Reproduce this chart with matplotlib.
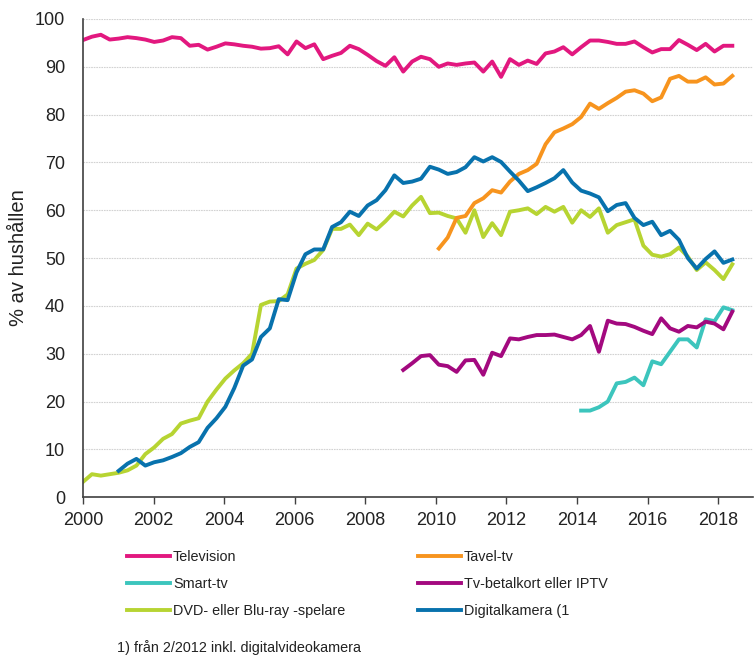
import matplotlib
matplotlib.use("Agg")
import matplotlib.pyplot as plt
import numpy as np

plt.rcParams["font.family"] = ["Liberation Sans", "DejaVu Sans"]
plt.rcParams["font.size"] = 11

# quarterly observations, 1/2000 .. 2/2018
quarters = np.linspace(2000, 2018.4, 74)

television = [
    95.6, 96.3, 96.7, 95.7, 95.9, 96.2, 96.0, 95.7, 95.2, 95.5,
    96.2, 96.0, 94.4, 94.6, 93.6, 94.2, 94.9, 94.7, 94.4, 94.2,
    93.8, 93.9, 94.3, 92.6, 95.3, 93.9, 94.7, 91.6, 92.3, 92.9,
    94.4, 93.7, 92.5, 91.2, 90.2, 92.0, 89.0, 91.1, 92.1, 91.6,
    90.0, 90.7, 90.4, 90.7, 90.9, 89.0, 91.1, 87.9, 91.6, 90.4,
    91.3, 90.6, 92.8, 93.2, 94.1, 92.6, 94.1, 95.5, 95.5, 95.2,
    94.8, 94.8, 95.3, 94.1, 93.0, 93.7, 93.7, 95.6, 94.6, 93.5,
    94.8, 93.2, 94.4, 94.4,
]

# Tavel-tv from 1/2010
tavel_start = 40
tavel_tv = [
    52.0, 54.3, 58.4, 58.8, 61.5, 62.5, 64.2, 63.7, 66.0, 67.6,
    68.4, 69.7, 73.8, 76.3, 77.1, 78.0, 79.5, 82.3, 81.2, 82.4,
    83.5, 84.8, 85.1, 84.4, 82.8, 83.6, 87.5, 88.1, 86.9, 86.9,
    87.8, 86.3, 86.5, 88.1,
]

# Smart-tv from 1/2014
smart_start = 56
smart_tv = [
    18.1, 18.1, 18.8, 20.0, 23.8, 24.1, 25.0, 23.4, 28.4, 27.8,
    30.4, 33.0, 33.0, 31.3, 37.2, 36.8, 39.7, 39.1,
]

# Tv-betalkort eller IPTV from 1/2009
betal_start = 36
betalkort = [
    26.6, 28.0, 29.5, 29.7, 27.7, 27.4, 26.2, 28.6, 28.7, 25.6,
    30.2, 29.5, 33.2, 33.0, 33.5, 33.9, 33.9, 34.0, 33.5, 33.0,
    33.9, 35.8, 30.4, 36.9, 36.3, 36.2, 35.6, 34.8, 34.1, 37.4,
    35.3, 34.6, 35.8, 35.5, 36.7, 36.3, 35.1, 38.8,
]

dvd = [
    3.2, 4.8, 4.5, 4.8, 5.1, 5.6, 6.6, 9.0, 10.4, 12.2,
    13.2, 15.4, 16.0, 16.5, 20.0, 22.5, 24.8, 26.5, 28.0, 30.0,
    40.2, 40.9, 41.0, 42.4, 47.8, 48.8, 49.6, 51.7, 56.1, 56.1,
    57.0, 54.8, 57.2, 56.0, 57.7, 59.7, 58.7, 61.0, 62.8, 59.4,
    59.5, 58.8, 58.3, 55.3, 60.0, 54.4, 57.3, 54.8, 59.7, 60.0,
    60.4, 59.2, 60.7, 59.7, 60.7, 57.4, 60.0, 58.6, 60.4, 55.3,
    56.9, 57.5, 58.1, 52.6, 50.7, 50.3, 50.8, 52.2, 50.3, 47.5,
    49.1, 47.5, 45.6, 48.7,
]

# Digitalkamera from 1/2001
kamera_start = 4
kamera = [
    5.5, 7.0, 8.0, 6.6, 7.3, 7.7, 8.4, 9.2, 10.5, 11.5,
    14.5, 16.5, 18.9, 22.8, 27.5, 28.8, 33.5, 35.3, 41.4, 41.2,
    47.0, 50.8, 51.8, 51.8, 56.5, 57.5, 59.7, 58.8, 61.0, 62.1,
    64.2, 67.3, 65.7, 66.0, 66.6, 69.1, 68.5, 67.6, 68.0, 69.0,
    71.1, 70.2, 71.1, 70.1, 68.1, 66.2, 64.0, 64.8, 65.7, 66.7,
    68.4, 65.8, 64.1, 63.5, 62.7, 59.8, 61.1, 61.5, 58.4, 56.9,
    57.6, 54.8, 55.7, 53.8, 50.0, 47.8, 49.8, 51.4, 49.0, 49.7,
]

# legend column 1, then column 2
series = [
    ("Television", television, 0, "#e2187f"),
    ("Smart-tv", smart_tv, smart_start, "#3cc5bd"),
    ("DVD- eller Blu-ray -spelare", dvd, 0, "#b7d432"),
    ("Tavel-tv", tavel_tv, tavel_start, "#f7941e"),
    ("Tv-betalkort eller IPTV", betalkort, betal_start, "#a3097f"),
    ("Digitalkamera (1", kamera, kamera_start, "#0872ad"),
]

fig = plt.figure(figsize=(7.55, 6.55), dpi=100)
ax = fig.add_axes([0.110, 0.241, 0.888, 0.730])

lines = []
for label, values, start, color in series:
    x = quarters[start:start + len(values)]
    (ln,) = ax.plot(x, values, color=color, lw=2.8, label=label, solid_joinstyle="round")
    lines.append(ln)

ax.set_xlim(2000, 2019)
ax.set_ylim(0, 100)
ax.set_xticks(np.arange(2000, 2019, 2))
ax.set_yticks(np.arange(0, 101, 10))
ax.grid(True, axis="y", color="#d2d2d2", lw=0.8, linestyle=(0, (1.5, 0.8)))
ax.set_axisbelow(True)

for side in ["top", "right"]:
    ax.spines[side].set_visible(False)
ax.spines["left"].set_color("#404040")
ax.spines["bottom"].set_color("#404040")
ax.spines["left"].set_linewidth(1.2)
ax.spines["bottom"].set_linewidth(1.2)
ax.tick_params(axis="y", length=0, pad=13, labelsize=13, colors="#222222")
ax.tick_params(axis="x", length=5, width=1, direction="out", pad=6,
               labelsize=13, colors="#404040", labelcolor="#222222")
ax.set_ylabel("% av hushållen", fontsize=14.5, color="#222222", labelpad=5)

leg_kw = dict(loc="upper left", frameon=False, handlelength=3.0, handletextpad=0.2,
              labelspacing=0.9, borderaxespad=0, borderpad=0, fontsize=10.4,
              labelcolor="#222222")
fig.legend(handles=lines[:3], bbox_to_anchor=(0.168, 0.160), **leg_kw)
fig.legend(handles=lines[3:], bbox_to_anchor=(0.553, 0.160), **leg_kw)

fig.text(0.155, 0.004, "1) från 2/2012 inkl. digitalvideokamera", fontsize=10.4,
         color="#222222")

fig.savefig("out.png", dpi=100)
